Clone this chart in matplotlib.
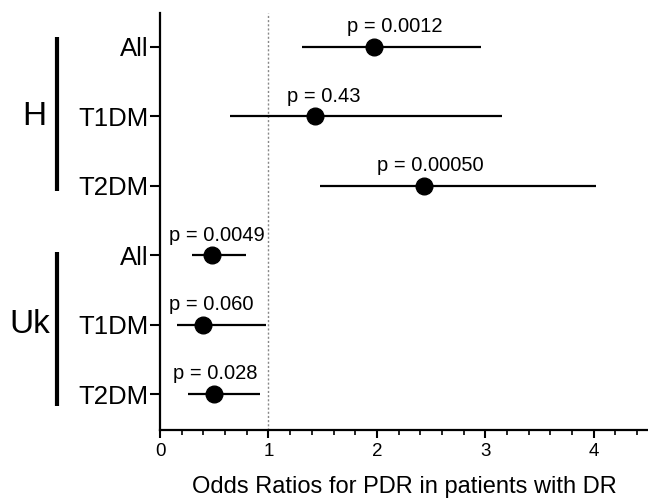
import matplotlib
matplotlib.use("Agg")
import matplotlib.pyplot as plt
import matplotlib.transforms as mtransforms
from matplotlib.ticker import MultipleLocator

plt.rcParams['font.family'] = ['Liberation Sans', 'DejaVu Sans']

# Data (top to bottom)
row_labels = ["All", "T1DM", "T2DM", "All", "T1DM", "T2DM"]
odds_ratio = [1.975, 1.43, 2.43, 0.48, 0.40, 0.50]
ci_low = [1.31, 0.645, 1.475, 0.29, 0.16, 0.26]
ci_high = [2.96, 3.15, 4.02, 0.79, 0.98, 0.92]
p_labels = ["p = 0.0012", "p = 0.43", "p = 0.00050", "p = 0.0049", "p = 0.060", "p = 0.028"]
groups = ["H", "Uk"]

fig = plt.figure(figsize=(6.48, 4.99), dpi=100)
ax = fig.add_axes([0.247, 0.138, 0.753, 0.836])

n = len(row_labels)
ypos = list(range(n, 0, -1))

ax.axvline(1, color='#888888', linestyle=(0, (1.5, 1.5)), linewidth=1.0, zorder=1)

xerr = [[o - l for o, l in zip(odds_ratio, ci_low)], [h - o for o, h in zip(odds_ratio, ci_high)]]
ax.errorbar(odds_ratio, ypos, xerr=xerr, fmt='o', color='black', ecolor='black',
            elinewidth=1.6, capsize=0, markersize=12, zorder=3)

label_dx = [0.19, 0.08, 0.06, 0.04, 0.07, 0.01]
for o, y, t, dx in zip(odds_ratio, ypos, p_labels, label_dx):
    ax.text(o + dx, y + 0.29, t, ha='center', va='center', fontsize=14.5)

ax.set_xlim(0, 4.5)
ax.set_ylim(0.48, 6.49)
ax.set_yticks(ypos)
ax.set_yticklabels(row_labels, fontsize=18.5)
ax.set_xticks([0, 1, 2, 3, 4])
ax.tick_params(axis='x', labelsize=13.5, width=1.5, length=6, direction='out')
ax.xaxis.set_minor_locator(MultipleLocator(0.2))
ax.tick_params(axis='x', which='minor', width=1.2, length=3.5)
ax.tick_params(axis='y', width=1.5, length=7, pad=1)
ax.set_xlabel("Odds Ratios for PDR in patients with DR", fontsize=17, labelpad=11)

for s in ['top', 'right']:
    ax.spines[s].set_visible(False)
for s in ['left', 'bottom']:
    ax.spines[s].set_linewidth(1.6)

trans = mtransforms.blended_transform_factory(ax.transAxes, ax.transData)
ax.plot([-0.211, -0.211], [6.14, 3.93], color='black', linewidth=3, transform=trans, clip_on=False, solid_capstyle='butt')
ax.plot([-0.211, -0.211], [3.04, 0.83], color='black', linewidth=3, transform=trans, clip_on=False, solid_capstyle='butt')
ax.text(-0.258, 5.0, groups[0], transform=trans, ha='center', va='center', fontsize=24)
ax.text(-0.268, 2.0, groups[1], transform=trans, ha='center', va='center', fontsize=24)

fig.savefig("out.png", dpi=100)
